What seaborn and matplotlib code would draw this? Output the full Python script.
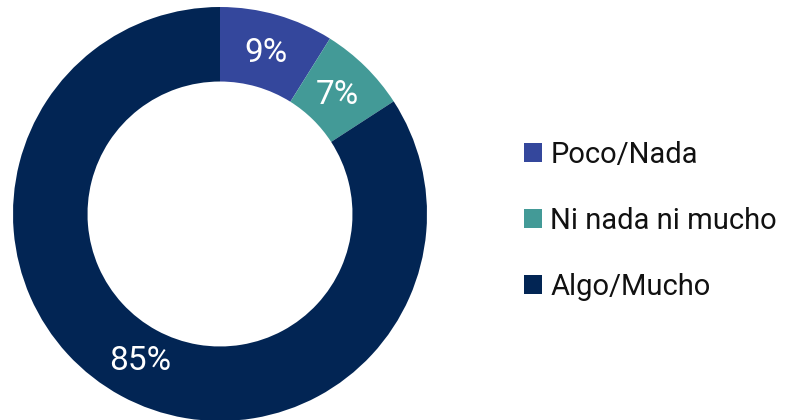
import matplotlib.pyplot as plt
import seaborn as sns
from matplotlib.patches import Patch

labels = ['Poco/Nada', 'Ni nada ni mucho', 'Algo/Mucho']
values = [9, 7, 85]
colors = ['#34479C', '#439A97', '#022554']

sns.set_theme(style='white')
plt.rcParams['font.family'] = ['Roboto', 'DejaVu Sans']

fig = plt.figure(figsize=(7.89, 4.2), dpi=100)
W, H = 789, 420
# donut axes: center (220, 214), radius 207 px
ax = fig.add_axes([(220 - 207) / W, (H - 214 - 207) / H, 414 / W, 414 / H])

wedges, texts, autotexts = ax.pie(
    values, colors=colors, startangle=90, counterclock=False,
    autopct=lambda p: f'{round(p * sum(values) / 100):.0f}%',
    pctdistance=0.81, radius=1,
    wedgeprops=dict(width=0.36, linewidth=0),
    textprops=dict(color='white', fontsize=24, fontweight='normal'))
ax.set_xlim(-1, 1)
ax.set_ylim(-1, 1)
ax.set_aspect('equal')
ax.axis('off')

handles = [Patch(facecolor=c, edgecolor='none') for c in colors]
fig.legend(handles, labels, loc='center left', bbox_to_anchor=(524 / W, 0.474),
           frameon=False, handlelength=0.6, handleheight=0.6,
           handletextpad=0.3, labelspacing=1.3, borderpad=0, borderaxespad=0,
           prop=dict(family='Roboto', size=21), labelcolor='#111111')

fig.savefig('out.png', dpi=100)
